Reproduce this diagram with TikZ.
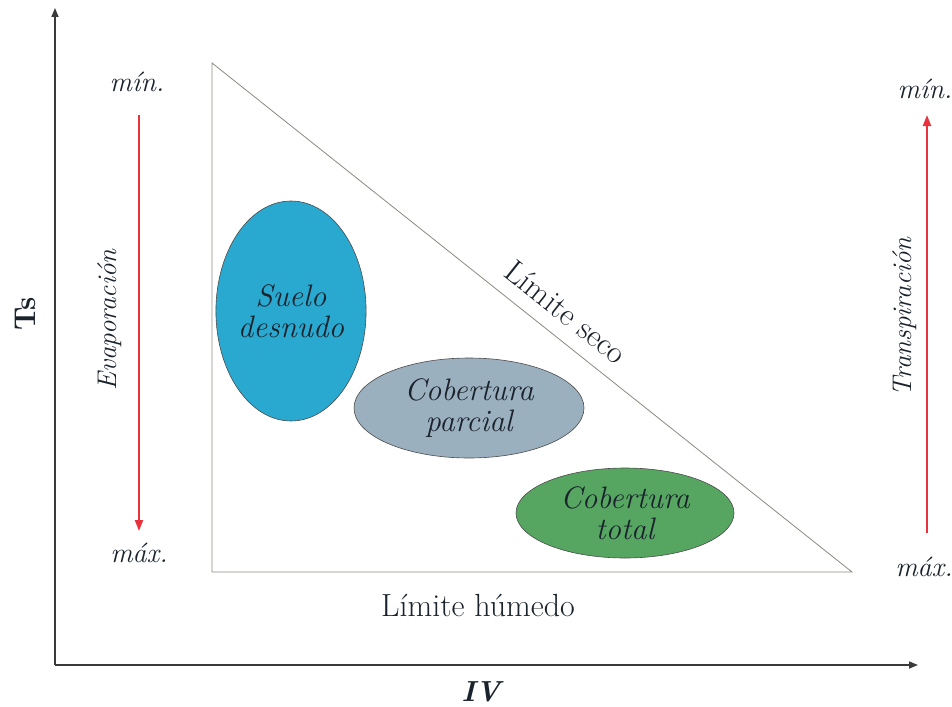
\documentclass[tikz,border=0pt]{standalone}
\usetikzlibrary{shapes.geometric,arrows.meta}
\definecolor{axisgray}{HTML}{3A3A3A}
\definecolor{trigray}{HTML}{8A8A80}
\definecolor{redarrow}{HTML}{E8333C}
\definecolor{suelo}{HTML}{29A8D0}
\definecolor{parcial}{HTML}{9BB0BE}
\definecolor{total}{HTML}{56A662}
\definecolor{txt}{HTML}{1A222C}
\begin{document}
\begin{tikzpicture}[x=1pt,y=-1pt,
  axisline/.style={draw=axisgray,line width=1.6pt,-{Triangle[length=9pt,width=7pt]}},
  redline/.style={draw=redarrow,line width=2pt,-{Triangle[length=11pt,width=8pt]}},
  lbl/.style={font=\fontsize{28}{30}\selectfont\itshape,text=txt,inner sep=0pt},
  sidel/.style={font=\fontsize{27}{30}\selectfont\itshape,text=txt,inner sep=0pt,rotate=90},
  bigl/.style={font=\fontsize{32}{34}\selectfont,text=txt,inner sep=0pt},
  blob/.style={ellipse,draw=black!70,line width=0.6pt,inner sep=0pt,align=center,
     font=\fontsize{31}{31}\selectfont\itshape,text=txt}]
\useasboundingbox (0,0) rectangle (952,706);
% axes
\coordinate (o) at (55,665);
\coordinate (ytop) at (55,8);
\coordinate (xend) at (918,665);
\draw[axisline] (o) -- (ytop);
\draw[axisline] (o) -- (xend);
\node[font=\fontsize{30}{32}\selectfont\bfseries,text=txt,rotate=90,inner sep=0pt] (ts) at (25,314) {Ts};
\node[font=\fontsize{29}{30}\selectfont\itshape,text=txt,inner sep=0pt] (iv) at (481,692) {\textbf{IV}};
% triangle
\coordinate (ta) at (212,63);
\coordinate (tb) at (212,572);
\coordinate (tc) at (852,572);
\draw[trigray,line width=0.8pt] (ta) -- (tb) -- (tc) -- cycle;
\node[bigl] (lh) at (478,605) {Límite húmedo};
\node[bigl,rotate=-38.5] (ls) at (566,312) {Límite seco};
% ellipses
\node[blob,fill=suelo,minimum width=130pt,minimum height=220pt] (s) at (291,311) {Suelo\\desnudo};
\node[blob,fill=parcial,minimum width=230pt,minimum height=100pt] (p) at (469,408) {Cobertura\\parcial};
\node[blob,fill=total,minimum width=218pt,minimum height=90pt] (t) at (625,513) {Cobertura\\total};
% left scale
\node[lbl] (lmin) at (137,82) {mín.};
\node[lbl] (lmax) at (139,553) {máx.};
\coordinate (la) at (139,115);
\coordinate (lb) at (139,531);
\draw[redline] (la) -- (lb);
\node[sidel] (ev) at (110,320) {Evaporación};
% right scale
\node[lbl] (rmin) at (925,89) {mín.};
\node[lbl] (rmax) at (924,567) {máx.};
\coordinate (ra) at (927,533);
\coordinate (rb) at (927,115);
\draw[redline] (ra) -- (rb);
\node[sidel] (tr) at (905,317) {Transpiración};
\end{tikzpicture}
\end{document}
